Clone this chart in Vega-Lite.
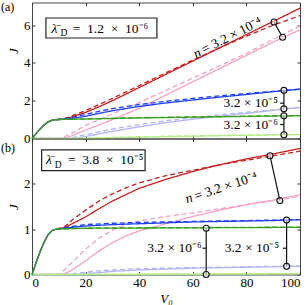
{
"$schema": "https://vega.github.io/schema/vega-lite/v6.json",
"padding": {"left": 0, "top": 0.5, "right": 0, "bottom": 0},
"bounds": "flush",
"spacing": 0,
"config": {
  "font": "Liberation Serif",
  "view": {"stroke": "#444", "strokeWidth": 1},
  "axis": {"domain": false, "grid": false, "tickSize": -3, "tickColor": "#333", "labelFont": "Liberation Serif", "labelFontSize": 13, "labelColor": "#000", "labelPadding": 5, "titleFont": "Liberation Serif", "titleFontSize": 13, "titleFontStyle": "italic", "titleFontWeight": "normal", "titleColor": "#000", "titlePadding": 3}
},
"datasets": {
  "aD": [
    {"s":"red","d":"solid","V0":0,"J":0},{"s":"red","d":"solid","V0":1.5,"J":0.26},{"s":"red","d":"solid","V0":3,"J":0.5},{"s":"red","d":"solid","V0":4.5,"J":0.71},{"s":"red","d":"solid","V0":6,"J":0.88},{"s":"red","d":"solid","V0":7.5,"J":0.97},{"s":"red","d":"solid","V0":9,"J":1.0},{"s":"red","d":"solid","V0":12,"J":1.03},{"s":"red","d":"solid","V0":15,"J":1.15},{"s":"red","d":"solid","V0":20,"J":1.38},{"s":"red","d":"solid","V0":25,"J":1.68},{"s":"red","d":"solid","V0":30,"J":2.0},{"s":"red","d":"solid","V0":40,"J":2.7},{"s":"red","d":"solid","V0":50,"J":3.4},{"s":"red","d":"solid","V0":60,"J":4.1},{"s":"red","d":"solid","V0":70,"J":4.8},{"s":"red","d":"solid","V0":80,"J":5.5},{"s":"red","d":"solid","V0":90,"J":6.2},{"s":"red","d":"solid","V0":100,"J":6.9},
    {"s":"red","d":"dash","V0":9,"J":1.0},{"s":"red","d":"dash","V0":12,"J":1.05},{"s":"red","d":"dash","V0":15,"J":1.2},{"s":"red","d":"dash","V0":20,"J":1.48},{"s":"red","d":"dash","V0":25,"J":1.8},{"s":"red","d":"dash","V0":30,"J":2.12},{"s":"red","d":"dash","V0":40,"J":2.8},{"s":"red","d":"dash","V0":50,"J":3.48},{"s":"red","d":"dash","V0":60,"J":4.15},{"s":"red","d":"dash","V0":70,"J":4.8},{"s":"red","d":"dash","V0":80,"J":5.42},{"s":"red","d":"dash","V0":90,"J":6.0},{"s":"red","d":"dash","V0":100,"J":6.5},
    {"s":"blue","d":"solid","V0":0,"J":0},{"s":"blue","d":"solid","V0":1.5,"J":0.26},{"s":"blue","d":"solid","V0":3,"J":0.5},{"s":"blue","d":"solid","V0":4.5,"J":0.71},{"s":"blue","d":"solid","V0":6,"J":0.88},{"s":"blue","d":"solid","V0":7.5,"J":0.97},{"s":"blue","d":"solid","V0":9,"J":1.0},{"s":"blue","d":"solid","V0":12,"J":1.02},{"s":"blue","d":"solid","V0":15,"J":1.06},{"s":"blue","d":"solid","V0":20,"J":1.18},{"s":"blue","d":"solid","V0":25,"J":1.33},{"s":"blue","d":"solid","V0":30,"J":1.47},{"s":"blue","d":"solid","V0":40,"J":1.7},{"s":"blue","d":"solid","V0":50,"J":1.88},{"s":"blue","d":"solid","V0":60,"J":2.04},{"s":"blue","d":"solid","V0":70,"J":2.19},{"s":"blue","d":"solid","V0":80,"J":2.33},{"s":"blue","d":"solid","V0":90,"J":2.48},{"s":"blue","d":"solid","V0":100,"J":2.62},
    {"s":"blue","d":"dash","V0":9,"J":1.0},{"s":"blue","d":"dash","V0":12,"J":1.04},{"s":"blue","d":"dash","V0":15,"J":1.12},{"s":"blue","d":"dash","V0":20,"J":1.28},{"s":"blue","d":"dash","V0":25,"J":1.44},{"s":"blue","d":"dash","V0":30,"J":1.58},{"s":"blue","d":"dash","V0":40,"J":1.8},{"s":"blue","d":"dash","V0":50,"J":1.97},{"s":"blue","d":"dash","V0":60,"J":2.12},{"s":"blue","d":"dash","V0":70,"J":2.26},{"s":"blue","d":"dash","V0":80,"J":2.38},{"s":"blue","d":"dash","V0":90,"J":2.5},{"s":"blue","d":"dash","V0":100,"J":2.6},
    {"s":"green","d":"dash","V0":9,"J":1.0},{"s":"green","d":"dash","V0":20,"J":1.04},{"s":"green","d":"dash","V0":30,"J":1.07},{"s":"green","d":"dash","V0":40,"J":1.1},{"s":"green","d":"dash","V0":50,"J":1.12},{"s":"green","d":"dash","V0":60,"J":1.14},{"s":"green","d":"dash","V0":70,"J":1.16},{"s":"green","d":"dash","V0":80,"J":1.18},{"s":"green","d":"dash","V0":90,"J":1.2},{"s":"green","d":"dash","V0":100,"J":1.21},
    {"s":"green","d":"solid","V0":0,"J":0},{"s":"green","d":"solid","V0":1.5,"J":0.26},{"s":"green","d":"solid","V0":3,"J":0.5},{"s":"green","d":"solid","V0":4.5,"J":0.71},{"s":"green","d":"solid","V0":6,"J":0.88},{"s":"green","d":"solid","V0":7.5,"J":0.97},{"s":"green","d":"solid","V0":9,"J":1.0},{"s":"green","d":"solid","V0":15,"J":1.02},{"s":"green","d":"solid","V0":20,"J":1.03},{"s":"green","d":"solid","V0":30,"J":1.06},{"s":"green","d":"solid","V0":40,"J":1.09},{"s":"green","d":"solid","V0":50,"J":1.11},{"s":"green","d":"solid","V0":60,"J":1.13},{"s":"green","d":"solid","V0":70,"J":1.15},{"s":"green","d":"solid","V0":80,"J":1.17},{"s":"green","d":"solid","V0":90,"J":1.19},{"s":"green","d":"solid","V0":100,"J":1.21}
  ],
  "aL": [
    {"s":"pink","d":"solid","V0":0,"J":0},{"s":"pink","d":"solid","V0":11,"J":0},{"s":"pink","d":"solid","V0":13,"J":0.05},{"s":"pink","d":"solid","V0":15,"J":0.15},{"s":"pink","d":"solid","V0":20,"J":0.45},{"s":"pink","d":"solid","V0":25,"J":0.72},{"s":"pink","d":"solid","V0":30,"J":1.0},{"s":"pink","d":"solid","V0":40,"J":1.6},{"s":"pink","d":"solid","V0":50,"J":2.3},{"s":"pink","d":"solid","V0":60,"J":3.0},{"s":"pink","d":"solid","V0":70,"J":3.7},{"s":"pink","d":"solid","V0":80,"J":4.4},{"s":"pink","d":"solid","V0":90,"J":5.1},{"s":"pink","d":"solid","V0":100,"J":5.75},
    {"s":"pink","d":"dash","V0":0,"J":0},{"s":"pink","d":"dash","V0":10,"J":0},{"s":"pink","d":"dash","V0":12,"J":0.08},{"s":"pink","d":"dash","V0":15,"J":0.3},{"s":"pink","d":"dash","V0":20,"J":0.7},{"s":"pink","d":"dash","V0":25,"J":1.0},{"s":"pink","d":"dash","V0":30,"J":1.3},{"s":"pink","d":"dash","V0":40,"J":1.9},{"s":"pink","d":"dash","V0":50,"J":2.55},{"s":"pink","d":"dash","V0":60,"J":3.2},{"s":"pink","d":"dash","V0":70,"J":3.85},{"s":"pink","d":"dash","V0":80,"J":4.5},{"s":"pink","d":"dash","V0":90,"J":5.25},{"s":"pink","d":"dash","V0":100,"J":5.95},
    {"s":"lblue","d":"solid","V0":0,"J":0},{"s":"lblue","d":"solid","V0":15,"J":0},{"s":"lblue","d":"solid","V0":18,"J":0.05},{"s":"lblue","d":"solid","V0":20,"J":0.1},{"s":"lblue","d":"solid","V0":25,"J":0.24},{"s":"lblue","d":"solid","V0":30,"J":0.38},{"s":"lblue","d":"solid","V0":40,"J":0.62},{"s":"lblue","d":"solid","V0":50,"J":0.84},{"s":"lblue","d":"solid","V0":60,"J":1.02},{"s":"lblue","d":"solid","V0":70,"J":1.18},{"s":"lblue","d":"solid","V0":80,"J":1.33},{"s":"lblue","d":"solid","V0":90,"J":1.49},{"s":"lblue","d":"solid","V0":100,"J":1.64},
    {"s":"lblue","d":"dash","V0":0,"J":0},{"s":"lblue","d":"dash","V0":13,"J":0},{"s":"lblue","d":"dash","V0":15,"J":0.05},{"s":"lblue","d":"dash","V0":20,"J":0.2},{"s":"lblue","d":"dash","V0":25,"J":0.35},{"s":"lblue","d":"dash","V0":30,"J":0.5},{"s":"lblue","d":"dash","V0":40,"J":0.74},{"s":"lblue","d":"dash","V0":50,"J":0.94},{"s":"lblue","d":"dash","V0":60,"J":1.1},{"s":"lblue","d":"dash","V0":70,"J":1.25},{"s":"lblue","d":"dash","V0":80,"J":1.39},{"s":"lblue","d":"dash","V0":90,"J":1.52},{"s":"lblue","d":"dash","V0":100,"J":1.65},
    {"s":"lgreen","d":"solid","V0":0,"J":0},{"s":"lgreen","d":"solid","V0":18,"J":0},{"s":"lgreen","d":"solid","V0":25,"J":0.02},{"s":"lgreen","d":"solid","V0":30,"J":0.04},{"s":"lgreen","d":"solid","V0":40,"J":0.07},{"s":"lgreen","d":"solid","V0":50,"J":0.1},{"s":"lgreen","d":"solid","V0":60,"J":0.12},{"s":"lgreen","d":"solid","V0":70,"J":0.15},{"s":"lgreen","d":"solid","V0":80,"J":0.17},{"s":"lgreen","d":"solid","V0":90,"J":0.19},{"s":"lgreen","d":"solid","V0":100,"J":0.21},
    {"s":"lgreen","d":"dash","V0":0,"J":0},{"s":"lgreen","d":"dash","V0":15,"J":0},{"s":"lgreen","d":"dash","V0":20,"J":0.02},{"s":"lgreen","d":"dash","V0":30,"J":0.06},{"s":"lgreen","d":"dash","V0":40,"J":0.09},{"s":"lgreen","d":"dash","V0":50,"J":0.12},{"s":"lgreen","d":"dash","V0":60,"J":0.14},{"s":"lgreen","d":"dash","V0":70,"J":0.16},{"s":"lgreen","d":"dash","V0":80,"J":0.18},{"s":"lgreen","d":"dash","V0":90,"J":0.2},{"s":"lgreen","d":"dash","V0":100,"J":0.21}
  ],
  "bD": [
    {"s":"red","d":"solid","V0":0,"J":0},{"s":"red","d":"solid","V0":1.5,"J":0.26},{"s":"red","d":"solid","V0":3,"J":0.5},{"s":"red","d":"solid","V0":4.5,"J":0.71},{"s":"red","d":"solid","V0":6,"J":0.88},{"s":"red","d":"solid","V0":7.5,"J":0.97},{"s":"red","d":"solid","V0":9,"J":1.0},{"s":"red","d":"solid","V0":12,"J":1.03},{"s":"red","d":"solid","V0":15,"J":1.12},{"s":"red","d":"solid","V0":20,"J":1.27},{"s":"red","d":"solid","V0":25,"J":1.45},{"s":"red","d":"solid","V0":30,"J":1.62},{"s":"red","d":"solid","V0":35,"J":1.76},{"s":"red","d":"solid","V0":40,"J":1.9},{"s":"red","d":"solid","V0":50,"J":2.1},{"s":"red","d":"solid","V0":60,"J":2.27},{"s":"red","d":"solid","V0":70,"J":2.42},{"s":"red","d":"solid","V0":80,"J":2.55},{"s":"red","d":"solid","V0":90,"J":2.66},{"s":"red","d":"solid","V0":100,"J":2.78},
    {"s":"red","d":"dash","V0":9,"J":1.0},{"s":"red","d":"dash","V0":12,"J":1.05},{"s":"red","d":"dash","V0":15,"J":1.2},{"s":"red","d":"dash","V0":20,"J":1.42},{"s":"red","d":"dash","V0":25,"J":1.62},{"s":"red","d":"dash","V0":30,"J":1.78},{"s":"red","d":"dash","V0":35,"J":1.91},{"s":"red","d":"dash","V0":40,"J":2.02},{"s":"red","d":"dash","V0":50,"J":2.18},{"s":"red","d":"dash","V0":60,"J":2.3},{"s":"red","d":"dash","V0":70,"J":2.42},{"s":"red","d":"dash","V0":80,"J":2.52},{"s":"red","d":"dash","V0":90,"J":2.62},{"s":"red","d":"dash","V0":100,"J":2.72},
    {"s":"blue","d":"solid","V0":0,"J":0},{"s":"blue","d":"solid","V0":1.5,"J":0.26},{"s":"blue","d":"solid","V0":3,"J":0.5},{"s":"blue","d":"solid","V0":4.5,"J":0.71},{"s":"blue","d":"solid","V0":6,"J":0.88},{"s":"blue","d":"solid","V0":7.5,"J":0.97},{"s":"blue","d":"solid","V0":9,"J":1.0},{"s":"blue","d":"solid","V0":15,"J":1.04},{"s":"blue","d":"solid","V0":20,"J":1.07},{"s":"blue","d":"solid","V0":30,"J":1.1},{"s":"blue","d":"solid","V0":40,"J":1.12},{"s":"blue","d":"solid","V0":50,"J":1.14},{"s":"blue","d":"solid","V0":60,"J":1.16},{"s":"blue","d":"solid","V0":70,"J":1.17},{"s":"blue","d":"solid","V0":80,"J":1.18},{"s":"blue","d":"solid","V0":90,"J":1.19},{"s":"blue","d":"solid","V0":100,"J":1.21},
    {"s":"blue","d":"dash","V0":9,"J":1.0},{"s":"blue","d":"dash","V0":15,"J":1.06},{"s":"blue","d":"dash","V0":20,"J":1.1},{"s":"blue","d":"dash","V0":30,"J":1.13},{"s":"blue","d":"dash","V0":40,"J":1.15},{"s":"blue","d":"dash","V0":50,"J":1.16},{"s":"blue","d":"dash","V0":60,"J":1.17},{"s":"blue","d":"dash","V0":70,"J":1.18},{"s":"blue","d":"dash","V0":80,"J":1.19},{"s":"blue","d":"dash","V0":90,"J":1.2},{"s":"blue","d":"dash","V0":100,"J":1.21},
    {"s":"green","d":"dash","V0":9,"J":1.0},{"s":"green","d":"dash","V0":20,"J":1.02},{"s":"green","d":"dash","V0":40,"J":1.03},{"s":"green","d":"dash","V0":60,"J":1.035},{"s":"green","d":"dash","V0":80,"J":1.04},{"s":"green","d":"dash","V0":100,"J":1.045},
    {"s":"green","d":"solid","V0":0,"J":0},{"s":"green","d":"solid","V0":1.5,"J":0.26},{"s":"green","d":"solid","V0":3,"J":0.5},{"s":"green","d":"solid","V0":4.5,"J":0.71},{"s":"green","d":"solid","V0":6,"J":0.88},{"s":"green","d":"solid","V0":7.5,"J":0.97},{"s":"green","d":"solid","V0":9,"J":1.0},{"s":"green","d":"solid","V0":15,"J":1.015},{"s":"green","d":"solid","V0":20,"J":1.02},{"s":"green","d":"solid","V0":40,"J":1.025},{"s":"green","d":"solid","V0":60,"J":1.03},{"s":"green","d":"solid","V0":80,"J":1.035},{"s":"green","d":"solid","V0":100,"J":1.04}
  ],
  "bL": [
    {"s":"pink","d":"solid","V0":0,"J":0},{"s":"pink","d":"solid","V0":11,"J":0},{"s":"pink","d":"solid","V0":13,"J":0.04},{"s":"pink","d":"solid","V0":15,"J":0.1},{"s":"pink","d":"solid","V0":20,"J":0.3},{"s":"pink","d":"solid","V0":25,"J":0.52},{"s":"pink","d":"solid","V0":30,"J":0.7},{"s":"pink","d":"solid","V0":35,"J":0.85},{"s":"pink","d":"solid","V0":40,"J":0.96},{"s":"pink","d":"solid","V0":50,"J":1.12},{"s":"pink","d":"solid","V0":60,"J":1.28},{"s":"pink","d":"solid","V0":70,"J":1.42},{"s":"pink","d":"solid","V0":80,"J":1.54},{"s":"pink","d":"solid","V0":90,"J":1.64},{"s":"pink","d":"solid","V0":100,"J":1.76},
    {"s":"pink","d":"dash","V0":0,"J":0},{"s":"pink","d":"dash","V0":10,"J":0},{"s":"pink","d":"dash","V0":12,"J":0.1},{"s":"pink","d":"dash","V0":15,"J":0.27},{"s":"pink","d":"dash","V0":20,"J":0.56},{"s":"pink","d":"dash","V0":25,"J":0.8},{"s":"pink","d":"dash","V0":30,"J":0.98},{"s":"pink","d":"dash","V0":35,"J":1.1},{"s":"pink","d":"dash","V0":40,"J":1.18},{"s":"pink","d":"dash","V0":50,"J":1.28},{"s":"pink","d":"dash","V0":60,"J":1.36},{"s":"pink","d":"dash","V0":70,"J":1.45},{"s":"pink","d":"dash","V0":80,"J":1.54},{"s":"pink","d":"dash","V0":90,"J":1.63},{"s":"pink","d":"dash","V0":100,"J":1.72},
    {"s":"lblue","d":"solid","V0":0,"J":0},{"s":"lblue","d":"solid","V0":15,"J":0},{"s":"lblue","d":"solid","V0":20,"J":0.02},{"s":"lblue","d":"solid","V0":25,"J":0.04},{"s":"lblue","d":"solid","V0":30,"J":0.07},{"s":"lblue","d":"solid","V0":40,"J":0.1},{"s":"lblue","d":"solid","V0":50,"J":0.12},{"s":"lblue","d":"solid","V0":60,"J":0.14},{"s":"lblue","d":"solid","V0":70,"J":0.15},{"s":"lblue","d":"solid","V0":80,"J":0.16},{"s":"lblue","d":"solid","V0":90,"J":0.17},{"s":"lblue","d":"solid","V0":100,"J":0.18},
    {"s":"lblue","d":"dash","V0":0,"J":0},{"s":"lblue","d":"dash","V0":12,"J":0},{"s":"lblue","d":"dash","V0":15,"J":0.02},{"s":"lblue","d":"dash","V0":20,"J":0.05},{"s":"lblue","d":"dash","V0":25,"J":0.08},{"s":"lblue","d":"dash","V0":30,"J":0.1},{"s":"lblue","d":"dash","V0":40,"J":0.13},{"s":"lblue","d":"dash","V0":50,"J":0.14},{"s":"lblue","d":"dash","V0":60,"J":0.15},{"s":"lblue","d":"dash","V0":70,"J":0.16},{"s":"lblue","d":"dash","V0":80,"J":0.17},{"s":"lblue","d":"dash","V0":90,"J":0.18},{"s":"lblue","d":"dash","V0":100,"J":0.19},
    {"s":"lgreen","d":"solid","V0":0,"J":0},{"s":"lgreen","d":"solid","V0":20,"J":0},{"s":"lgreen","d":"solid","V0":40,"J":0.005},{"s":"lgreen","d":"solid","V0":60,"J":0.01},{"s":"lgreen","d":"solid","V0":80,"J":0.015},{"s":"lgreen","d":"solid","V0":100,"J":0.02},
    {"s":"lgreen","d":"dash","V0":0,"J":0},{"s":"lgreen","d":"dash","V0":20,"J":0.003},{"s":"lgreen","d":"dash","V0":40,"J":0.008},{"s":"lgreen","d":"dash","V0":60,"J":0.012},{"s":"lgreen","d":"dash","V0":80,"J":0.017},{"s":"lgreen","d":"dash","V0":100,"J":0.02}
  ]
},
"vconcat": [
{
  "width": 268, "height": 136,
  "resolve": {"axis": {"x": "independent", "y": "independent"}},
  "encoding": {
    "x": {"field": "V0", "type": "quantitative", "scale": {"domain": [0, 100], "nice": false}, "axis": null},
    "y": {"field": "J", "type": "quantitative", "scale": {"domain": [0, 7.2], "nice": false}, "axis": null}
  },
  "layer": [
    {"data": {"name": "aL"}, "mark": {"type": "line", "strokeWidth": 1.3},
     "encoding": {
       "x": {"field": "V0", "type": "quantitative", "scale": {"domain": [0, 100], "nice": false}, "axis": {"orient": "top", "labels": false, "title": null, "values": [0,20,40,60,80,100]}},
       "y": {"field": "J", "type": "quantitative", "scale": {"domain": [0, 7.2], "nice": false}, "axis": {"orient": "right", "labels": false, "title": null, "values": [0,2,4,6]}},
       "color": {"field": "s", "type": "nominal", "scale": {"domain": ["red","pink","blue","lblue","green","lgreen"], "range": ["#c81e1e","#f5a0c6","#1f3ff0","#b0b5f3","#3a9f22","#b4ee88"]}, "legend": null},
       "strokeDash": {"field": "d", "type": "nominal", "scale": {"domain": ["solid","dash"], "range": [[1,0],[5,3]]}, "legend": null}
     }},
    {"data": {"name": "aD"}, "mark": {"type": "line", "strokeWidth": 1.3},
     "encoding": {
       "x": {"field": "V0", "type": "quantitative", "scale": {"domain": [0, 100], "nice": false}, "axis": {"orient": "bottom", "labels": false, "title": null, "values": [0,20,40,60,80,100]}},
       "y": {"field": "J", "type": "quantitative", "scale": {"domain": [0, 7.2], "nice": false}, "axis": {"orient": "left", "title": "J", "values": [0,2,4,6], "titleY": 48}},
       "color": {"field": "s", "type": "nominal", "scale": {"domain": ["red","pink","blue","lblue","green","lgreen"], "range": ["#c81e1e","#f5a0c6","#1f3ff0","#b0b5f3","#3a9f22","#b4ee88"]}, "legend": null},
       "strokeDash": {"field": "d", "type": "nominal", "scale": {"domain": ["solid","dash"], "range": [[1,0],[5,3]]}, "legend": null}
     }},
    {"data": {"values": [{"V0": 5.2, "J": 6.38, "V0b": 46.6, "Jb": 5.32}]},
     "mark": {"type": "rect", "fill": "white", "stroke": "#222", "strokeWidth": 1.2},
     "encoding": {"x2": {"field": "V0b"}, "y2": {"field": "Jb"}}},
    {"data": {"values": [
       {"V0": 90.3, "J": 6.17, "V0b": 93.5, "Jb": 5.36},
       {"V0": 94, "J": 2.55, "V0b": 94, "Jb": 1.57},
       {"V0": 94, "J": 1.2, "V0b": 94, "Jb": 0.2},
       {"V0": 92.6, "J": 1.87, "V0b": 94, "Jb": 1.87},
       {"V0": 92.6, "J": 0.74, "V0b": 94, "Jb": 0.74}]},
     "mark": {"type": "rule", "color": "#111", "strokeWidth": 1.2},
     "encoding": {"x2": {"field": "V0b"}, "y2": {"field": "Jb"}}},
    {"data": {"values": [
       {"V0": 90.3, "J": 6.17}, {"V0": 93.5, "J": 5.36}, {"V0": 94, "J": 2.55},
       {"V0": 94, "J": 1.57}, {"V0": 94, "J": 1.2}, {"V0": 94, "J": 0.2}]},
     "mark": {"type": "point", "shape": "circle", "filled": true, "fill": "white", "fillOpacity": 0.5, "stroke": "#111", "strokeWidth": 1.1, "size": 36, "opacity": 1}},
    {"data": {"values": [{"V0": 7.3, "J": 5.59, "t": "\u03bb\u0304"}]},
     "mark": {"type": "text", "font": "Liberation Serif", "fontSize": 13.5, "fontStyle": "italic", "align": "left", "baseline": "alphabetic", "color": "#000"},
     "encoding": {"text": {"field": "t"}}},
    {"data": {"values": [{"V0": 10.6, "J": 5.41, "t": "D"}]},
     "mark": {"type": "text", "font": "Liberation Serif", "fontSize": 9.5, "align": "left", "baseline": "alphabetic", "color": "#000"},
     "encoding": {"text": {"field": "t"}}},
    {"data": {"values": [{"V0": 15.2, "J": 5.59, "t": "=\u20021.2\u2002\u00d7\u200210\u207b\u2076"}]},
     "mark": {"type": "text", "font": "Liberation Serif", "fontSize": 13.5, "align": "left", "baseline": "alphabetic", "color": "#000"},
     "encoding": {"text": {"field": "t"}}},
    {"data": {"values": [{"V0": 61.2, "J": 4.24, "t": "n"}]},
     "mark": {"type": "text", "font": "Liberation Serif", "fontSize": 13.5, "fontStyle": "italic", "align": "left", "baseline": "alphabetic", "angle": -27, "color": "#000"},
     "encoding": {"text": {"field": "t"}}},
    {"data": {"values": [{"V0": 64.3, "J": 4.47, "t": "= 3.2 \u00d7 10\u207b\u2074"}]},
     "mark": {"type": "text", "font": "Liberation Serif", "fontSize": 13.5, "align": "left", "baseline": "alphabetic", "angle": -27, "color": "#000"},
     "encoding": {"text": {"field": "t"}}},
    {"data": {"values": [
       {"V0": 91.8, "J": 1.87, "t": "3.2 \u00d7 10\u207b\u2075"},
       {"V0": 91.8, "J": 0.74, "t": "3.2 \u00d7 10\u207b\u2076"}]},
     "mark": {"type": "text", "font": "Liberation Serif", "fontSize": 13.5, "align": "right", "baseline": "middle", "color": "#000"},
     "encoding": {"text": {"field": "t"}}},
    {"data": {"values": [{"V0": -11.57, "J": 6.95, "t": "(a)"}]},
     "mark": {"type": "text", "font": "Liberation Serif", "fontSize": 12, "align": "left", "baseline": "middle", "color": "#000"},
     "encoding": {"text": {"field": "t"}}}
  ]
},
{
  "width": 268, "height": 136,
  "resolve": {"axis": {"x": "independent", "y": "independent"}},
  "encoding": {
    "x": {"field": "V0", "type": "quantitative", "scale": {"domain": [0, 100], "nice": false}, "axis": null},
    "y": {"field": "J", "type": "quantitative", "scale": {"domain": [0, 3], "nice": false}, "axis": null}
  },
  "layer": [
    {"data": {"name": "bL"}, "mark": {"type": "line", "strokeWidth": 1.3},
     "encoding": {
       "x": {"field": "V0", "type": "quantitative", "scale": {"domain": [0, 100], "nice": false}, "axis": {"orient": "top", "labels": false, "title": null, "values": [0,20,40,60,80,100]}},
       "y": {"field": "J", "type": "quantitative", "scale": {"domain": [0, 3], "nice": false}, "axis": {"orient": "right", "labels": false, "title": null, "values": [0,1,2]}},
       "color": {"field": "s", "type": "nominal", "scale": {"domain": ["red","pink","blue","lblue","green","lgreen"], "range": ["#c81e1e","#f5a0c6","#1f3ff0","#b0b5f3","#3a9f22","#b4ee88"]}, "legend": null},
       "strokeDash": {"field": "d", "type": "nominal", "scale": {"domain": ["solid","dash"], "range": [[1,0],[5,3]]}, "legend": null}
     }},
    {"data": {"name": "bD"}, "mark": {"type": "line", "strokeWidth": 1.3},
     "encoding": {
       "x": {"field": "V0", "type": "quantitative", "scale": {"domain": [0, 100], "nice": false}, "axis": {"orient": "bottom", "title": "V\u2080", "values": [0,20,40,60,80,100]}},
       "y": {"field": "J", "type": "quantitative", "scale": {"domain": [0, 3], "nice": false}, "axis": {"orient": "left", "title": "J", "values": [0,1,2]}},
       "color": {"field": "s", "type": "nominal", "scale": {"domain": ["red","pink","blue","lblue","green","lgreen"], "range": ["#c81e1e","#f5a0c6","#1f3ff0","#b0b5f3","#3a9f22","#b4ee88"]}, "legend": null},
       "strokeDash": {"field": "d", "type": "nominal", "scale": {"domain": ["solid","dash"], "range": [[1,0],[5,3]]}, "legend": null}
     }},
    {"data": {"values": [{"V0": 3.6, "J": 2.75, "V0b": 42.2, "Jb": 2.29}]},
     "mark": {"type": "rect", "fill": "white", "stroke": "#222", "strokeWidth": 1.2},
     "encoding": {"x2": {"field": "V0b"}, "y2": {"field": "Jb"}}},
    {"data": {"values": [
       {"V0": 88.8, "J": 2.62, "V0b": 92.5, "Jb": 1.63},
       {"V0": 95, "J": 1.2, "V0b": 95, "Jb": 0.18},
       {"V0": 65, "J": 1.02, "V0b": 65, "Jb": 0.0},
       {"V0": 93.6, "J": 0.58, "V0b": 95, "Jb": 0.58},
       {"V0": 63.6, "J": 0.58, "V0b": 65, "Jb": 0.58}]},
     "mark": {"type": "rule", "color": "#111", "strokeWidth": 1.2},
     "encoding": {"x2": {"field": "V0b"}, "y2": {"field": "Jb"}}},
    {"data": {"values": [
       {"V0": 88.8, "J": 2.62}, {"V0": 92.5, "J": 1.63}, {"V0": 95, "J": 1.2},
       {"V0": 95, "J": 0.18}, {"V0": 65, "J": 1.02}, {"V0": 65, "J": 0.0}]},
     "mark": {"type": "point", "shape": "circle", "filled": true, "fill": "white", "fillOpacity": 0.5, "stroke": "#111", "strokeWidth": 1.1, "size": 36, "opacity": 1}},
    {"data": {"values": [{"V0": 5.2, "J": 2.433, "t": "\u03bb\u0304"}]},
     "mark": {"type": "text", "font": "Liberation Serif", "fontSize": 13.5, "fontStyle": "italic", "align": "left", "baseline": "alphabetic", "color": "#000"},
     "encoding": {"text": {"field": "t"}}},
    {"data": {"values": [{"V0": 8.5, "J": 2.36, "t": "D"}]},
     "mark": {"type": "text", "font": "Liberation Serif", "fontSize": 9.5, "align": "left", "baseline": "alphabetic", "color": "#000"},
     "encoding": {"text": {"field": "t"}}},
    {"data": {"values": [{"V0": 13.4, "J": 2.433, "t": "=\u20023.8\u2002\u00d7\u200210\u207b\u2075"}]},
     "mark": {"type": "text", "font": "Liberation Serif", "fontSize": 13.5, "align": "left", "baseline": "alphabetic", "color": "#000"},
     "encoding": {"text": {"field": "t"}}},
    {"data": {"values": [{"V0": 57.8, "J": 1.572, "t": "n"}]},
     "mark": {"type": "text", "font": "Liberation Serif", "fontSize": 13.5, "fontStyle": "italic", "align": "left", "baseline": "alphabetic", "angle": -18, "color": "#000"},
     "encoding": {"text": {"field": "t"}}},
    {"data": {"values": [{"V0": 61.2, "J": 1.635, "t": "= 3.2 \u00d7 10\u207b\u2074"}]},
     "mark": {"type": "text", "font": "Liberation Serif", "fontSize": 13.5, "align": "left", "baseline": "alphabetic", "angle": -18, "color": "#000"},
     "encoding": {"text": {"field": "t"}}},
    {"data": {"values": [
       {"V0": 92.2, "J": 0.58, "t": "3.2 \u00d7 10\u207b\u2075"},
       {"V0": 63.3, "J": 0.58, "t": "3.2 \u00d7 10\u207b\u2076"}]},
     "mark": {"type": "text", "font": "Liberation Serif", "fontSize": 13.5, "align": "right", "baseline": "middle", "color": "#000"},
     "encoding": {"text": {"field": "t"}}},
    {"data": {"values": [{"V0": -11.57, "J": 2.8, "t": "(b)"}]},
     "mark": {"type": "text", "font": "Liberation Serif", "fontSize": 12, "align": "left", "baseline": "middle", "color": "#000"},
     "encoding": {"text": {"field": "t"}}}
  ]
}
]
}
